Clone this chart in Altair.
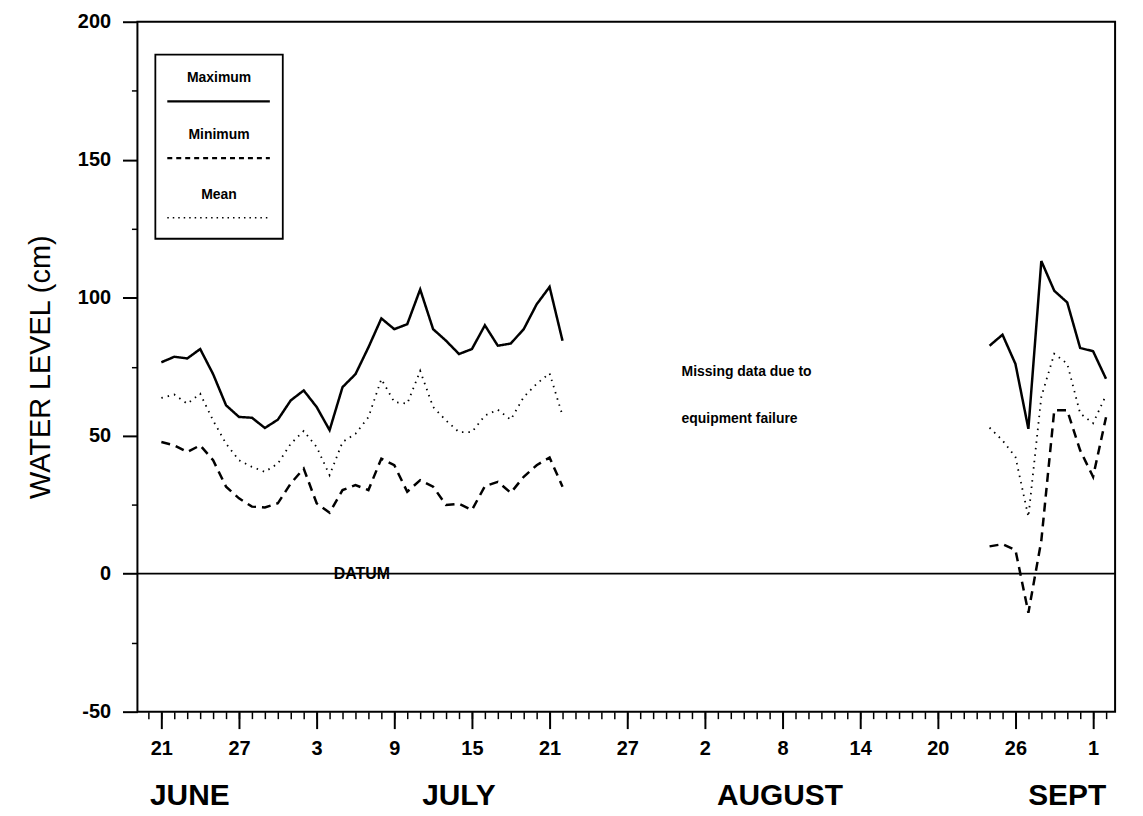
import altair as alt
import pandas as pd

# day 0 = June 21
max_jj = [76.6, 78.6, 78.0, 81.4, 72.3, 61.0, 56.8, 56.5, 52.8, 55.8, 62.8, 66.4, 60.4, 52.0, 67.6, 72.3,
          82.0, 92.5, 88.6, 90.4, 103.0, 88.6, 84.4, 79.6, 81.4, 90.0, 82.6, 83.4, 88.6, 97.6, 103.9, 84.4]
mean_jj = [63.7, 64.9, 61.6, 65.2, 55.5, 47.1, 41.1, 38.7, 36.9, 39.9, 47.1, 51.7, 45.9, 35.7, 47.7, 50.7,
           56.7, 70.5, 62.2, 61.6, 73.5, 60.4, 55.5, 51.3, 51.3, 57.3, 59.4, 55.8, 64.0, 68.8, 72.6, 57.3]
min_jj = [47.7, 46.5, 44.1, 46.5, 41.1, 31.5, 27.3, 24.3, 24.0, 25.5, 32.7, 38.1, 25.5, 22.1, 30.3, 32.1,
          30.3, 41.7, 39.3, 29.7, 33.9, 31.5, 24.9, 25.3, 23.1, 31.7, 33.3, 29.3, 35.1, 39.3, 42.1, 31.5]
days_jj = list(range(0, 32))

# Aug 24 .. Sept 2
days_as = list(range(64, 74))
max_as = [82.6, 86.6, 76.0, 52.5, 113.3, 102.5, 98.3, 81.8, 80.6, 70.6]
mean_as = [52.9, 48.3, 42.3, 20.6, 64.1, 79.7, 76.1, 58.1, 54.5, 64.7]
min_as = [9.9, 10.7, 8.6, -14.2, 12.0, 59.2, 59.2, 44.7, 35.1, 56.7]

tick_days = list(range(0, 73, 6))
tick_labels = ["21", "27", "3", "9", "15", "21", "27", "2", "8", "14", "20", "26", "1"]
months = ["JUNE", "JULY", "AUGUST", "SEPT"]
month_x = [2.2, 23.0, 47.8, 70.0]

rows = []
for seg, days, mx, mn, me in [("a", days_jj, max_jj, min_jj, mean_jj), ("b", days_as, max_as, min_as, mean_as)]:
    for d, a, b, c in zip(days, mx, mn, me):
        rows += [dict(day=d, v=a, s="Maximum", g=seg + "max"),
                 dict(day=d, v=b, s="Minimum", g=seg + "min"),
                 dict(day=d, v=c, s="Mean", g=seg + "mean")]
df = pd.DataFrame(rows)

W, H = 982, 693
FONT = "Liberation Sans"
xs = alt.Scale(domain=[-1.85, 73.7], nice=False, zero=False)
ys = alt.Scale(domain=[-50, 200], nice=False)

label_expr = "[" + ",".join(f"'{t}'" for t in tick_labels) + "][datum.value/6]"
one = pd.DataFrame({"day": [0], "v": [0]})

minor = alt.Chart(one).mark_point(opacity=0).encode(
    x=alt.X("day:Q", scale=xs, axis=alt.Axis(orient="bottom", values=list(range(-1, 74)), labels=False,
                                             tickSize=7, tickWidth=1.5, tickColor="black", domain=False,
                                             grid=False, title=None)),
    y=alt.Y("v:Q", scale=ys, axis=alt.Axis(orient="left", values=[-25, 25, 75, 125, 175], tickSize=6,
                                           tickWidth=1.5, tickColor="black", labels=False, domain=False,
                                           grid=False, title=None)),
)
major = alt.Chart(one).mark_point(opacity=0).encode(
    x=alt.X("day:Q", scale=xs, axis=alt.Axis(orient="bottom", values=tick_days, labelExpr=label_expr,
                                             tickSize=17, tickWidth=2, tickColor="black", domain=False,
                                             grid=False, title=None, labelFont=FONT, labelFontSize=20,
                                             labelFontWeight="bold", labelColor="black", labelPadding=10)),
    y=alt.Y("v:Q", scale=ys, axis=alt.Axis(orient="left", values=[-50, 0, 50, 100, 150, 200], tickSize=15,
                                           tickWidth=2, tickColor="black", domain=False, grid=False,
                                           labelExpr="'' + datum.value",
                                           labelFont=FONT, labelFontSize=20, labelFontWeight="bold",
                                           labelColor="black", labelPadding=12,
                                           title="WATER LEVEL (cm)", titleFont=FONT, titleFontSize=29,
                                           titleFontWeight="normal", titleColor="black", titlePadding=22)),
)

styles = {"Maximum": ([1, 0], 2.5), "Minimum": ([9, 6], 2.5), "Mean": ([1.5, 5], 1.8)}
lines = []
for name, (dash, sw) in styles.items():
    lines.append(alt.Chart(df[df.s == name]).mark_line(color="black", strokeDash=dash, strokeWidth=sw).encode(
        x=alt.X("day:Q", scale=xs, axis=None), y=alt.Y("v:Q", scale=ys, axis=None), detail="g:N"))

frame = alt.Chart(one).mark_rect(fill=None, stroke="black", strokeWidth=2).encode(
    x=alt.value(0), x2=alt.value(W), y=alt.value(0), y2=alt.value(H))
datum = alt.Chart(one).mark_rule(color="black", strokeWidth=1.8).encode(
    y=alt.Y("v:Q", scale=ys, axis=None))
datum_txt = alt.Chart(pd.DataFrame({"day": [15.5], "v": [0], "t": ["DATUM"]})).mark_text(
    font=FONT, fontSize=16, fontWeight="bold", color="black").encode(
    x=alt.X("day:Q", scale=xs, axis=None), y=alt.Y("v:Q", scale=ys, axis=None), text="t:N")
miss = alt.Chart(pd.DataFrame({"day": [40.2, 40.2], "v": [73, 56],
                               "t": ["Missing data due to", "equipment failure"]})).mark_text(
    font=FONT, fontSize=14, fontWeight="bold", color="black", align="left").encode(
    x=alt.X("day:Q", scale=xs, axis=None), y=alt.Y("v:Q", scale=ys, axis=None), text="t:N")
month_txt = alt.Chart(pd.DataFrame({"day": month_x, "t": months})).mark_text(
    font=FONT, fontSize=30, fontWeight="bold", color="black", baseline="alphabetic").encode(
    x=alt.X("day:Q", scale=xs, axis=None), y=alt.value(H + 94), text="t:N")

# legend box
leg_box = alt.Chart(one).mark_rect(fill="white", stroke="black", strokeWidth=1.8).encode(
    x=alt.value(18), x2=alt.value(146), y=alt.value(33), y2=alt.value(218))
leg_txt = alt.Chart(pd.DataFrame({"t": ["Maximum", "Minimum", "Mean"], "yy": [57, 114, 174]})).mark_text(
    font=FONT, fontSize=14, fontWeight="bold", color="black").encode(
    x=alt.value(82), y=alt.Y("yy:Q", scale=None, axis=None), text="t:N")
leg_lines = [
    alt.Chart(one).mark_rule(color="black", strokeDash=d, strokeWidth=w).encode(
        x=alt.value(30), x2=alt.value(133), y=alt.value(yy))
    for (d, w), yy in [(([1, 0], 2.5), 80), (([5, 4], 2.5), 137), (([1.5, 4], 1.5), 197)]
]

chart = alt.layer(minor, major, frame, datum, *lines, datum_txt, miss, month_txt,
                  leg_box, leg_txt, *leg_lines).resolve_axis(x="independent", y="independent").properties(
    width=W, height=H, autosize="none", background="white",
    padding={"left": 130, "top": 12, "right": 20, "bottom": 103},
).configure_view(strokeWidth=0)

chart.save("out.html", embed_options={"renderer": "svg", "actions": False})
